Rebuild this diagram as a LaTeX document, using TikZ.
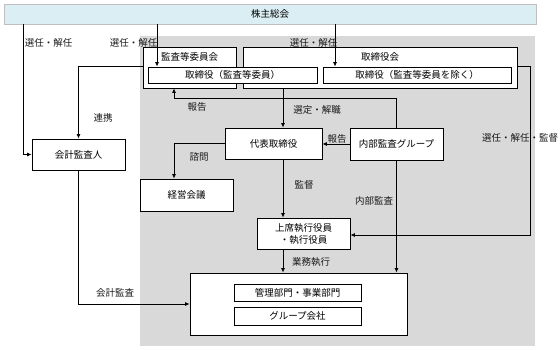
\documentclass[tikz,border=0pt]{standalone}
\usepackage{fontspec}
\setmainfont{Noto Sans CJK JP}
\usetikzlibrary{arrows.meta}
\definecolor{barfill}{HTML}{DBEEF4}
\definecolor{barline}{HTML}{BFBFBF}
\definecolor{grayarea}{HTML}{D9D9D9}
\definecolor{txt}{HTML}{1A1A1A}
\tikzset{
  box/.style={draw=black, line width=0.8pt, fill=white, inner sep=0pt, font=\fontsize{9.5}{11}\selectfont, text=black},
  lbl/.style={inner sep=0pt, font=\fontsize{9.5}{11}\selectfont, text=txt},
  arr/.style={line width=0.8pt, -{Latex[length=4.5pt,width=4pt]}},
  ln/.style={line width=0.8pt}
}
\begin{document}
\begin{tikzpicture}[x=1pt,y=-1pt]
\useasboundingbox (0,0) rectangle (560,350);
% background
\fill[grayarea] (140,36) rectangle (535,346);
\node[draw=barline, line width=0.8pt, fill=barfill, minimum width=532pt, minimum height=20pt, inner sep=0pt, font=\fontsize{9.5}{11}\selectfont] (bar) at (270,14) {株主総会};
% outer boxes
\node[box, minimum width=93pt, minimum height=41pt] (kansaOut) at (189.5,67.5) {};
\node[lbl, text=black] at (189.5,57) {監査等委員会};
\node[box, minimum width=274pt, minimum height=41pt] (toriOut) at (380,67.5) {};
\node[lbl, text=black] at (380,57) {取締役会};
% inner boxes
\node[box, minimum width=169pt, minimum height=16pt] (kansaIn) at (232.5,75) {取締役（監査等委員）};
\node[box, minimum width=188pt, minimum height=16pt] (toriIn) at (417,75) {取締役（監査等委員を除く）};
% other boxes
\node[box, minimum width=93pt, minimum height=31pt] (kaikei) at (78.5,154.5) {会計監査人};
\node[box, minimum width=97pt, minimum height=31pt] (daihyo) at (273.5,143.5) {代表取締役};
\node[box, minimum width=93pt, minimum height=32pt] (naibu) at (396.5,144) {内部監査グループ};
\node[box, minimum width=93pt, minimum height=32pt] (keiei) at (186.5,195) {経営会議};
\node[box, minimum width=93pt, minimum height=31pt, align=center, font=\fontsize{9.5}{12}\selectfont] (joseki) at (303.5,233.5) {上席執行役員\\・執行役員};
\node[box, minimum width=217pt, minimum height=62pt] (big) at (298.5,304) {};
\node[box, minimum width=127pt, minimum height=17pt] (kanri) at (297.5,292.5) {管理部門・事業部門};
\node[box, minimum width=127pt, minimum height=18pt] (group) at (297.5,316) {グループ会社};
% helper coordinates
\coordinate (c23) at (23,0);
\coordinate (c157) at (157,0);
\coordinate (c335) at (335,0);
\coordinate (c283) at (283,0);
\coordinate (r1) at (174,98);
\coordinate (s1) at (530,235);
% connectors
\draw[arr] (bar.south -| c23) |- (kaikei.west);
\draw[arr] (bar.south -| c157) -- (kansaIn.north -| c157);
\draw[arr] (bar.south -| c335) -- (toriIn.north -| c335);
\draw[arr] (kansaOut.west |- kansaIn.north) -| (kaikei.north);
\draw[arr] (kaikei.south) |- (big.west);
\draw[arr] (toriOut.south -| c283) -- (daihyo.north -| c283);
\draw[arr] (naibu.north) |- (r1) -- (r1 |- kansaOut.south);
\draw[arr] (naibu.west) -- (naibu.west -| daihyo.east);
\draw[arr] (daihyo.west) -| (r1 |- keiei.north);
\draw[arr] (daihyo.south -| c283) -- (joseki.north -| c283);
\draw[arr] (naibu.south) -- (naibu.south |- big.north);
\draw[arr] (toriOut.east |- kansaIn.north) -| (s1) -- (s1 -| joseki.east);
\draw[arr] (joseki.south -| c283) -- (big.north -| c283);
% labels
\node[lbl] (l1) at (48.5,43) {選任・解任};
\node[lbl] (l2) at (133.5,43) {選任・解任};
\node[lbl] (l3) at (313.5,43) {選任・解任};
\node[lbl] (l4) at (103,118) {連携};
\node[lbl] (l5) at (197,107) {報告};
\node[lbl] (l6) at (317,110) {選定・解職};
\node[lbl] (l7) at (337,139) {報告};
\node[lbl] (l8) at (199,157) {諮問};
\node[lbl] (l9) at (520,138) {選任・解任・監督};
\node[lbl] (l10) at (304,185) {監督};
\node[lbl] (l11) at (374,201) {内部監査};
\node[lbl] (l12) at (115,293) {会計監査};
\node[lbl] (l13) at (311,262) {業務執行};
\end{tikzpicture}
\end{document}
